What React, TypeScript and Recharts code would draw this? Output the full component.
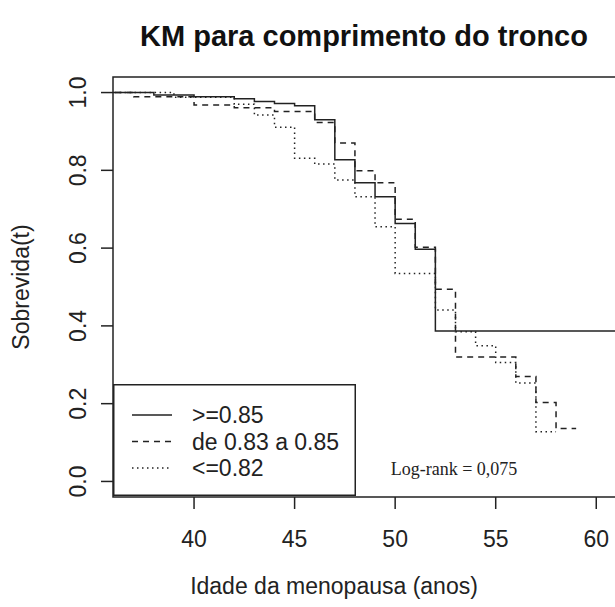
import { LineChart, Line, XAxis, YAxis, ReferenceArea } from "recharts";

// Kaplan-Meier estimates by trunk-length group (age at menopause, survival)
const groupNames = [">=0.85", "de 0.83 a 0.85", "<=0.82"];

const altoTempo = [0, 38, 40, 42, 43, 44, 45, 46, 47, 48, 49, 50, 51, 52, 64];
const altoSobrev = [1, 0.994, 0.989, 0.984, 0.977, 0.972, 0.966, 0.93, 0.827, 0.768, 0.732, 0.663, 0.597, 0.387, 0.387];

const medioTempo = [0, 37, 40, 42, 44, 46, 47, 48, 49, 50, 51, 52, 53, 56, 57, 58, 59];
const medioSobrev = [1, 0.989, 0.968, 0.961, 0.951, 0.923, 0.87, 0.799, 0.768, 0.674, 0.602, 0.494, 0.32, 0.27, 0.203, 0.136, 0.136];

const baixoTempo = [0, 39, 42, 43, 44, 45, 46, 47, 48, 49, 50, 52, 53, 54, 55, 56, 57, 58];
const baixoSobrev = [1, 0.988, 0.97, 0.942, 0.911, 0.831, 0.816, 0.775, 0.732, 0.655, 0.535, 0.441, 0.385, 0.349, 0.306, 0.253, 0.128, 0.128];

const xTicks = [40, 45, 50, 55, 60];
const yTicks = [0, 0.2, 0.4, 0.6, 0.8, 1.0];
const xDomain: [number, number] = [35.97, 61.23];
const yDomain: [number, number] = [-0.04, 1.04];

const logRankText = "Log-rank = 0,075";

const zip = (t: number[], s: number[]) => t.map((tempo, i) => ({ t: tempo, s: s[i] }));

const series = [
  { name: groupNames[0], data: zip(altoTempo, altoSobrev), dash: undefined },
  { name: groupNames[1], data: zip(medioTempo, medioSobrev), dash: "6 5" },
  { name: groupNames[2], data: zip(baixoTempo, baixoSobrev), dash: "1.5 3.5" },
];

const INK = "#222";
const SANS = "'Liberation Sans', Arial, sans-serif";
const FONT = 23;

function XTick(props: any) {
  const { x, y, payload } = props;
  return (
    <text x={x} y={y + 38} textAnchor="middle" fontFamily={SANS} fontSize={FONT} fill={INK}>
      {payload.value}
    </text>
  );
}

function YTick(props: any) {
  const { x, y, payload } = props;
  const bx = x - 15;
  return (
    <text
      x={bx}
      y={y}
      transform={`rotate(-90, ${bx}, ${y})`}
      textAnchor="middle"
      fontFamily={SANS}
      fontSize={FONT}
      fill={INK}
    >
      {Number(payload.value).toFixed(1)}
    </text>
  );
}

function KMLegend() {
  return (
    <svg
      width={243}
      height={112}
      style={{ position: "absolute", left: 113, top: 384, background: "#fff" }}
    >
      <rect x={0.75} y={0.75} width={241.5} height={110.5} fill="none" stroke={INK} strokeWidth={1.5} />
      {series.map((s, i) => {
        const cy = 31 + i * 26.5;
        return (
          <g key={s.name}>
            <line x1={19} x2={59} y1={cy} y2={cy} stroke={INK} strokeWidth={1.5} strokeDasharray={s.dash} />
            <text x={79} y={cy + 8} fontFamily={SANS} fontSize={FONT} fill={INK}>
              {s.name}
            </text>
          </g>
        );
      })}
    </svg>
  );
}

export default function App() {
  return (
    <div
      style={{
        position: "absolute",
        left: 0,
        top: 0,
        width: 615,
        height: 607,
        overflow: "hidden",
        background: "#fff",
      }}
    >
      <div style={{ position: "relative", width: 640, height: 607 }}>
        <LineChart width={640} height={607} margin={{ top: 77, right: 19, bottom: 0, left: 0 }}>
          <XAxis
            type="number"
            dataKey="t"
            domain={xDomain}
            allowDataOverflow
            ticks={xTicks}
            tickSize={12}
            tickMargin={0}
            axisLine={false}
            tickLine={{ stroke: INK, strokeWidth: 1.5 }}
            tick={(p: any) => <XTick {...p} />}
            height={110}
          />
          <YAxis
            type="number"
            dataKey="s"
            domain={yDomain}
            allowDataOverflow
            ticks={yTicks}
            tickSize={12}
            tickMargin={0}
            axisLine={false}
            tickLine={{ stroke: INK, strokeWidth: 1.5 }}
            tick={(p: any) => <YTick {...p} />}
            width={113}
          />
          <ReferenceArea
            x1={xDomain[0]}
            x2={xDomain[1]}
            y1={yDomain[0]}
            y2={yDomain[1]}
            fill="none"
            fillOpacity={0}
            stroke={INK}
            strokeWidth={1.5}
            ifOverflow="visible"
          />
          {series.map((s) => (
            <Line
              key={s.name}
              data={s.data}
              dataKey="s"
              name={s.name}
              type="stepAfter"
              stroke={INK}
              strokeWidth={1.5}
              strokeDasharray={s.dash}
              dot={false}
              activeDot={false}
              isAnimationActive={false}
            />
          ))}
        </LineChart>

        <div
          style={{
            position: "absolute",
            left: 0,
            width: 728,
            top: 20,
            textAlign: "center",
            fontFamily: SANS,
            fontWeight: "bold",
            fontSize: 29,
            color: "#111",
          }}
        >
          KM para comprimento do tronco
        </div>

        <div
          style={{
            position: "absolute",
            left: 0,
            width: 668,
            top: 573,
            textAlign: "center",
            fontFamily: SANS,
            fontSize: FONT,
            color: INK,
          }}
        >
          Idade da menopausa (anos)
        </div>

        <svg width={60} height={607} style={{ position: "absolute", left: 0, top: 0 }}>
          <text
            x={29}
            y={287}
            transform="rotate(-90, 29, 287)"
            textAnchor="middle"
            fontFamily={SANS}
            fontSize={FONT}
            fill={INK}
          >
            Sobrevida(t)
          </text>
        </svg>

        <KMLegend />

        <div
          style={{
            position: "absolute",
            left: 354,
            width: 200,
            top: 459,
            textAlign: "center",
            fontFamily: "'Liberation Serif', 'Times New Roman', serif",
            fontSize: 18,
            color: INK,
          }}
        >
          {logRankText}
        </div>
      </div>
    </div>
  );
}
